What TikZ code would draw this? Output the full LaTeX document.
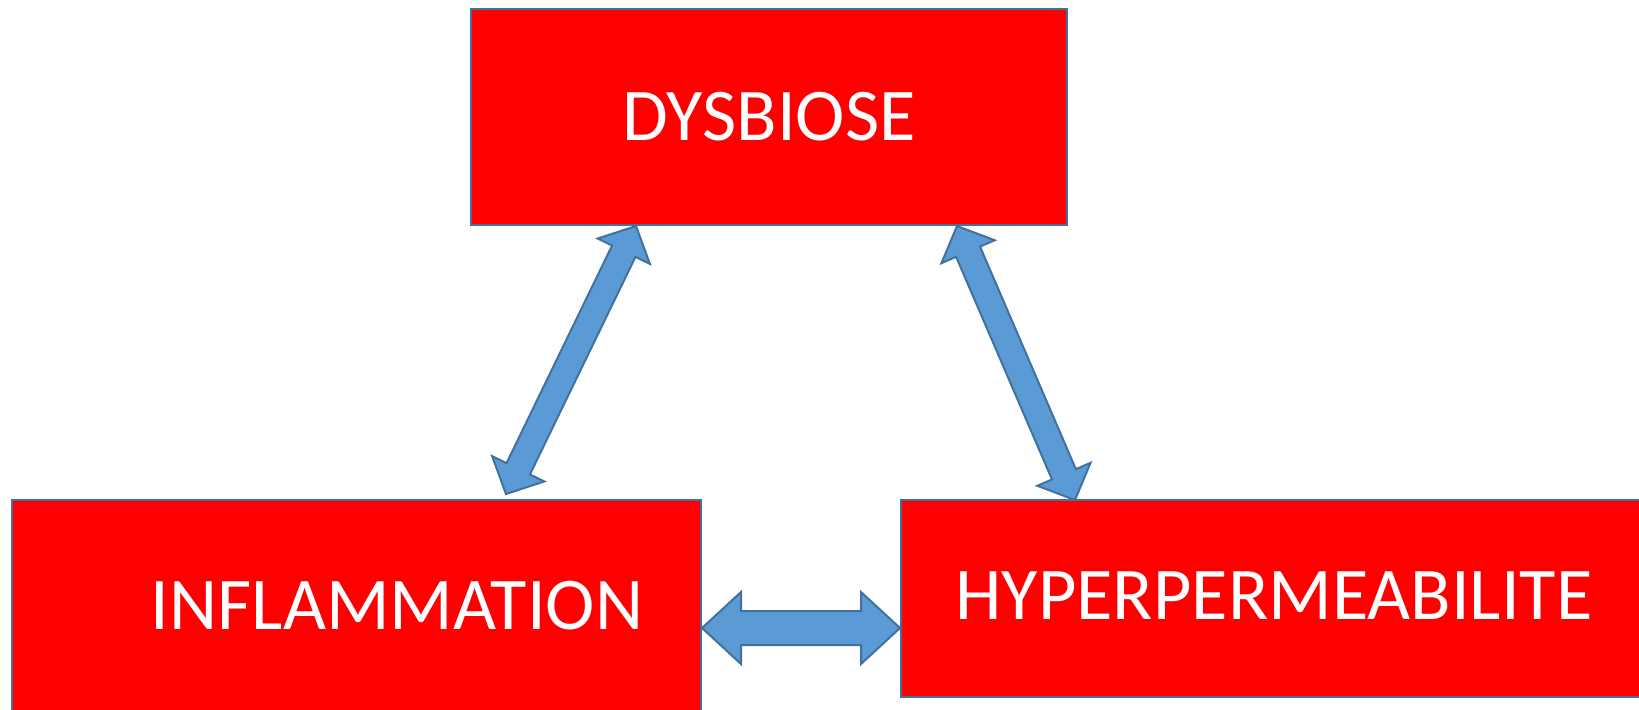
\documentclass[tikz,border=0pt]{standalone}
\usepackage{fontspec}
\setmainfont{Carlito}
\usetikzlibrary{calc}

\definecolor{boxred}{HTML}{FF0000}
\definecolor{edgeblue}{HTML}{41719C}
\definecolor{arrowblue}{HTML}{5B9BD5}

\tikzset{
  redbox/.style={draw=edgeblue, line width=1pt, fill=boxred, text=white,
    inner sep=0pt, font=\fontsize{37.2}{44}\selectfont},
  fatarrow/.style={draw=edgeblue, line width=1pt, fill=arrowblue, line join=miter}
}

% #1,#2 tips, #3 head length, #4 head half width, #5 shaft half width
\newcommand{\bigarrow}[5]{%
  \draw[fatarrow] (#1)
    -- ($(#1)!#3!(#2)!#4!90:(#2)$)
    -- ($(#1)!#3!(#2)!#5!90:(#2)$)
    -- ($(#2)!#3!(#1)!#5!-90:(#1)$)
    -- ($(#2)!#3!(#1)!#4!-90:(#1)$)
    -- (#2)
    -- ($(#2)!#3!(#1)!#4!90:(#1)$)
    -- ($(#2)!#3!(#1)!#5!90:(#1)$)
    -- ($(#1)!#3!(#2)!#5!-90:(#2)$)
    -- ($(#1)!#3!(#2)!#4!-90:(#2)$)
    -- cycle;}

\begin{document}
\begin{tikzpicture}[x=0.5pt, y=-0.5pt]
  \useasboundingbox (0,0) rectangle (1639,709);
  \clip (0,0) rectangle (1639,709);

  \node[redbox, minimum width=298pt, minimum height=108pt] (dys) at (769,117) {DYSBIOSE};
  \node[redbox, minimum width=344.5pt, minimum height=106pt] (infl) at (356,606)
    {\hspace*{41pt}INFLAMMATION};
  \node[redbox, minimum width=373pt, minimum height=98.5pt] (hyper) at (1274,598.5)
    {\raisebox{3pt}{HYPERPERMEABILITE}};

  \coordinate (dl) at (636,226);
  \coordinate (il) at (506,494);
  \coordinate (dr) at (957,226);
  \coordinate (hr) at (1075,500);
  \coordinate (ir) at (702,628);
  \coordinate (hl) at (900,628);

  \bigarrow{dl}{il}{14pt}{14.5pt}{6.5pt}
  \bigarrow{dr}{hr}{14pt}{14.5pt}{6.5pt}
  \bigarrow{ir}{hl}{19.5pt}{18pt}{8.5pt}
\end{tikzpicture}
\end{document}
